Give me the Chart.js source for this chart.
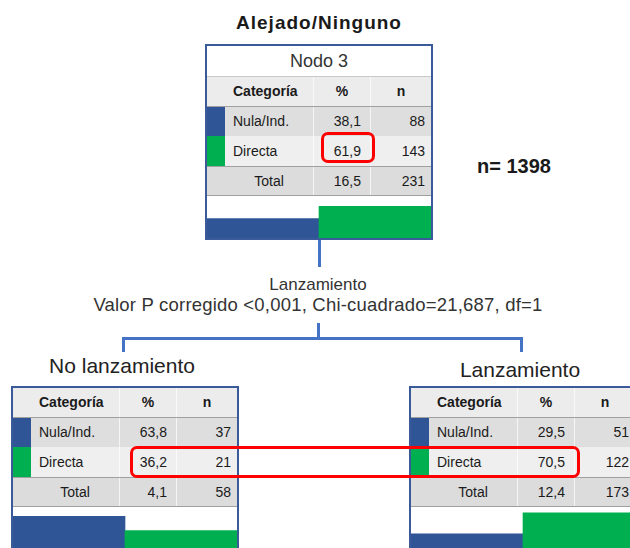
<!DOCTYPE html>
<html>
<head>
<meta charset="utf-8">
<script src="https://cdn.jsdelivr.net/npm/chart.js"></script>
<style>
  body { margin: 0; width: 630px; height: 548px; overflow: hidden; background: #fff;
         font-family: "Liberation Sans", Arial, sans-serif; color: #1a1a1a; position: relative; }
  .abs { position: absolute; }
  .node { position: absolute; width: 228px; box-sizing: border-box; border: 2px solid #3a5a9a; background: #fff; }
  .row { display: flex; box-sizing: border-box; height: 30px; line-height: 30px; font-size: 14px; }
  .row span { display: block; box-sizing: border-box; }
  .strip { width: 18px; }
  .cat { width: 88px; padding-left: 8px; }
  .pct { width: 57px; text-align: right; padding-right: 9px; border-left: 1px solid rgba(255,255,255,0.7); }
  .n { width: 61px; text-align: right; padding-right: 6px; border-left: 1px solid rgba(255,255,255,0.7); }
  .hdr { background: #ececec; font-weight: bold; border-bottom: 1px solid #a0a0a0; line-height: 29px; }
  .hdr .pct, .hdr .n { text-align: center; padding-right: 0; }
  .r1 { background: #dedede; height: 29px; line-height: 29px; }
  .r2 { background: #efefef; }
  .tot { background: #dcdcdc; border-top: 1px solid #a0a0a0; border-bottom: 1px solid #a0a0a0; line-height: 28px; }
  .tot .cat { text-align: center; padding-left: 0; }
  .nodo { box-sizing: border-box; height: 31px; line-height: 30px; text-align: center; font-size: 18px; color: #333;
          border-bottom: 1px solid #c8c8c8; }
  .bars { height: 42px; }
  .bars canvas { display: block; }
  .line { position: absolute; background: #4472c4; }
  .red { position: absolute; box-sizing: border-box; border: 3px solid #ff0000; border-radius: 7px; }
</style>
</head>
<body>
<div class="abs" style="left:199px;top:11px;width:240px;text-align:center;font-weight:bold;font-size:19px;letter-spacing:1px;line-height:24px;" id="t0"></div>
<div class="abs" style="left:477px;top:154px;font-weight:bold;font-size:20px;line-height:24px;" id="ntot"></div>

<div class="line" style="left:318px;top:240px;width:3px;height:27px;"></div>
<div class="abs" style="left:18px;top:275px;width:600px;text-align:center;font-size:17px;line-height:20px;color:#333;" id="split1"></div>
<div class="abs" style="left:18px;top:294px;width:600px;text-align:center;font-size:18.5px;letter-spacing:0.2px;line-height:22px;color:#333;" id="split2"></div>
<div class="line" style="left:317px;top:323px;width:3px;height:16px;"></div>
<div class="line" style="left:122px;top:337px;width:401px;height:3px;"></div>
<div class="line" style="left:122px;top:337px;width:3px;height:15px;"></div>
<div class="line" style="left:520px;top:337px;width:3px;height:15px;"></div>

<div class="abs" style="left:22px;top:354px;width:200px;text-align:center;font-size:21px;line-height:24px;color:#222;" id="t1"></div>
<div class="abs" style="left:420px;top:358px;width:200px;text-align:center;font-size:21px;line-height:24px;color:#222;" id="t2"></div>

<div id="nodes"></div>

<div class="red" style="left:321px;top:132px;width:54px;height:31px;"></div>
<div class="red" style="left:130px;top:446px;width:450px;height:32px;"></div>

<script>
// data
const categories = ['Nula/Ind.', 'Directa'];
const nodeTitles = ['Alejado/Ninguno', 'No lanzamiento', 'Lanzamiento'];
const alejadoPct = [38.1, 61.9];
const alejadoN = [88, 143];
const alejadoTotal = [16.5, 231];
const noLanzPct = [63.8, 36.2];
const noLanzN = [37, 21];
const noLanzTotal = [4.1, 58];
const lanzPct = [29.5, 70.5];
const lanzN = [51, 122];
const lanzTotal = [12.4, 173];
const sampleSize = 1398;
const splitVar = 'Lanzamiento';
const splitStats = 'Valor P corregido <0,001, Chi-cuadrado=21,687, df=1';

const barColors = ['#2f5597', '#00b050'];
const yMax = 82;

const fmt = v => v.toFixed(1).replace('.', ',');

document.getElementById('t0').textContent = nodeTitles[0];
document.getElementById('t1').textContent = nodeTitles[1];
document.getElementById('t2').textContent = nodeTitles[2];
document.getElementById('ntot').textContent = 'n= ' + sampleSize;
document.getElementById('split1').textContent = splitVar;
document.getElementById('split2').textContent = splitStats;

function makeNode(left, top, label, pct, n, total) {
  const box = document.createElement('div');
  box.className = 'node';
  box.style.left = left + 'px';
  box.style.top = top + 'px';
  let html = '';
  if (label) html += '<div class="nodo">' + label + '</div>';
  html += '<div class="row hdr"><span class="strip"></span><span class="cat">Categoría</span><span class="pct">%</span><span class="n">n</span></div>';
  categories.forEach((c, i) => {
    html += '<div class="row r' + (i + 1) + '">' +
      '<span class="strip" style="background:' + barColors[i] + '"></span>' +
      '<span class="cat">' + c + '</span><span class="pct">' + fmt(pct[i]) + '</span><span class="n">' + n[i] + '</span></div>';
  });
  html += '<div class="row tot"><span class="strip"></span><span class="cat">Total</span><span class="pct">' + fmt(total[0]) +
    '</span><span class="n">' + total[1] + '</span></div>';
  html += '<div class="bars"><canvas width="224" height="42"></canvas></div>';
  box.innerHTML = html;
  document.getElementById('nodes').appendChild(box);

  new Chart(box.querySelector('canvas'), {
    type: 'bar',
    data: {
      labels: categories,
      datasets: [{
        data: pct,
        backgroundColor: barColors,
        borderWidth: 0,
        categoryPercentage: 1,
        barPercentage: 1
      }]
    },
    options: {
      responsive: false,
      animation: false,
      layout: { padding: 0 },
      plugins: { legend: { display: false }, tooltip: { enabled: false } },
      scales: {
        x: { display: false },
        y: { display: false, min: 0, max: yMax }
      }
    }
  });
}

makeNode(205, 44, 'Nodo 3', alejadoPct, alejadoN, alejadoTotal);
makeNode(11, 386, null, noLanzPct, noLanzN, noLanzTotal);
makeNode(409, 386, null, lanzPct, lanzN, lanzTotal);
</script>
</body>
</html>
